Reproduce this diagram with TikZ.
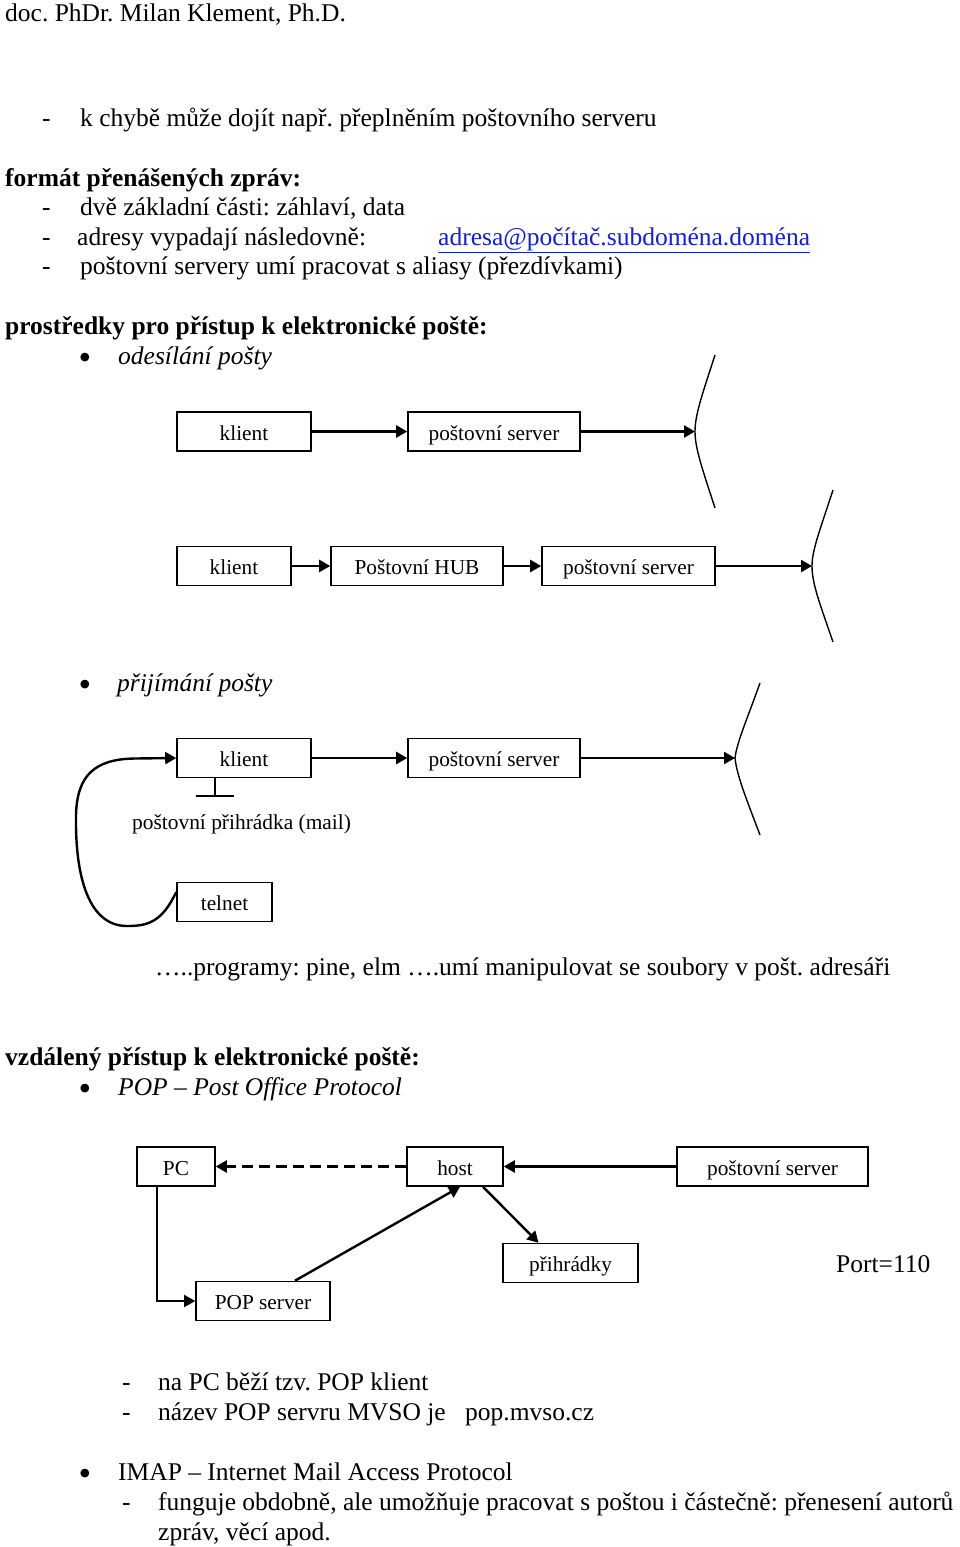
\documentclass[tikz,border=0pt]{standalone}
\usepackage{fontspec}
\setmainfont{Liberation Serif}
\usetikzlibrary{arrows.meta}
\definecolor{linkblue}{RGB}{20,30,210}
\frenchspacing
\begin{document}
\begin{tikzpicture}[x=1pt,y=-1pt,
  txt/.style={anchor=base west,inner sep=0pt,font=\fontsize{25.5}{30}\selectfont},
  btxt/.style={txt,font=\fontsize{25.5}{30}\selectfont\bfseries},
  itxt/.style={txt,font=\fontsize{25.5}{30}\selectfont\itshape},
  stxt/.style={anchor=base west,inner sep=0pt,font=\fontsize{21.4}{25}\selectfont},
  bul/.style={anchor=center,inner sep=0pt,font=\fontsize{36}{40}\selectfont},
  bx/.style={draw,line width=1.6pt,inner sep=0pt,minimum height=39pt,text height=21pt,text depth=4pt,font=\fontsize{21.3}{25}\selectfont},
  arr/.style={line width=2.4pt,-{Triangle[length=11pt,width=12pt]}},
  thin/.style={line width=1.5pt},
  curve/.style={line width=1.4pt}]
\useasboundingbox (0,0) rectangle (960,1547);
\fill[white] (0,0) rectangle (960,1547);

% ---- text at top
\node[txt] (h1) at (5,21) {doc. PhDr. Milan Klement, Ph.D.};
\node[txt] (d1) at (42,126) {-};
\node[txt] (t1) at (80,126) {k chybě může dojít např. přeplněním poštovního serveru};
\node[btxt] (s1) at (5,186) {formát přenášených zpráv:};
\node[txt] (d2) at (42,215) {-};
\node[txt] (t2) at (80,215) {dvě základní části: záhlaví, data};
\node[txt] (d3) at (42,245) {-};
\node[txt] (t3) at (77,245) {adresy vypadají následovně:};
\node[txt,text=linkblue] (lnk) at (438,245) {\underline{adresa@počítač.subdoména.doména}};
\node[txt] (d4) at (42,274) {-};
\node[txt] (t4) at (80,274) {poštovní servery umí pracovat s aliasy (přezdívkami)};
\node[btxt] (s2) at (5,334) {prostředky pro přístup k elektronické poště:};
\node[bul] (b1) at (85,361) {•};
\node[itxt] (i1) at (118,364) {odesílání pošty};

% ---- diagram 1
\node[bx,minimum width=134pt] (k1) at (244,431.5) {klient};
\node[bx,minimum width=172pt] (p1) at (494,431.5) {poštovní server};
\coordinate (v1) at (695,431.5);
\draw[curve] (715,355) .. controls (702,395) and (695,415) .. (v1) .. controls (695,448) and (702,468) .. (715,508);
\draw[arr] (k1) -- (p1);
\draw[arr] (p1) -- (v1);

% ---- diagram 2
\node[bx,minimum width=114pt] (k2) at (234,566) {klient};
\node[bx,minimum width=172pt] (h2) at (417,566) {Poštovní HUB};
\node[bx,minimum width=173pt] (p2) at (628.5,566) {poštovní server};
\coordinate (v2) at (812,566);
\draw[curve] (833,490) .. controls (820,530) and (812,550) .. (v2) .. controls (812,584) and (820,604) .. (833,642);
\draw[arr] (k2) -- (h2);
\draw[arr] (h2) -- (p2);
\draw[arr] (p2) -- (v2);

% ---- přijímání
\node[bul] (b2) at (85,688) {•};
\node[itxt] (i2) at (117,691) {přijímání pošty};
\node[bx,minimum width=134pt] (k3) at (244,758) {klient};
\node[bx,minimum width=172pt] (p3) at (494,758) {poštovní server};
\coordinate (v3) at (735,758);
\draw[curve] (760,683) .. controls (746,722) and (737,742) .. (v3) .. controls (737,776) and (746,798) .. (760,835);
\draw[arr] (k3) -- (p3);
\draw[arr] (p3) -- (v3);
\coordinate (tb) at (215,796);
\draw[thin] (k3.south west -| tb) -- (tb);
\draw[thin] ([xshift=-19pt]tb) -- ([xshift=19pt]tb);
\node[stxt] (mail) at (132,829) {poštovní přihrádka (mail)};
\node[bx,minimum width=95pt] (tel) at (224.5,902) {telnet};
\draw[arr] ([yshift=10pt]tel.west) .. controls (162,922) and (148,926) .. (127,926) .. controls (90,926) and (75,880) .. (76,815) .. controls (77,775) and (95,759) .. (135,758.5) -- (k3.west);

\node[txt] (prog) at (155,975) {…..programy: pine, elm ….umí manipulovat se soubory v pošt. adresáři};

% ---- vzdálený přístup
\node[btxt] (s3) at (5,1065) {vzdálený přístup k elektronické poště:};
\node[bul] (b3) at (85,1092) {•};
\node[itxt] (i3) at (118,1095) {POP – Post Office Protocol};

\node[bx,minimum width=78pt] (pc) at (176,1166.5) {PC};
\node[bx,minimum width=96pt] (host) at (455,1166.5) {host};
\node[bx,minimum width=191pt] (ps) at (772.5,1166.5) {poštovní server};
\node[bx,minimum width=134pt] (pop) at (263,1301) {POP server};
\node[bx,minimum width=135pt] (pri) at (570.5,1263) {přihrádky};
\draw[line width=2.4pt,dash pattern=on 11pt off 6pt,-{Triangle[length=11pt,width=12pt]}] (host) -- (pc);
\draw[arr] (ps) -- (host);
\draw[thin,-{Triangle[length=11pt,width=12pt]}] ([xshift=-19pt]pc.south) |- (pop.west);
\draw[arr] ([xshift=32pt]pop.north) -- ([xshift=5pt]host.south);
\draw[arr] ([xshift=28pt]host.south) -- ([xshift=-32pt]pri.north);
\node[txt] (port) at (836,1272) {Port=110};

% ---- bottom text
\node[txt] (d5) at (122,1390) {-};
\node[txt] (t5) at (158,1390) {na PC běží tzv. POP klient};
\node[txt] (d6) at (122,1420) {-};
\node[txt] (t6) at (158,1420) {název POP servru MVSO je};
\node[txt] (t6b) at (465,1420) {pop.mvso.cz};
\node[bul] (b4) at (85,1477) {•};
\node[txt] (t7) at (118,1480) {IMAP – Internet Mail Access Protocol};
\node[txt] (d8) at (122,1510) {-};
\node[txt] (t8) at (158,1510) {funguje obdobně, ale umožňuje pracovat s poštou i částečně: přenesení autorů};
\node[txt] (t9) at (158,1540) {zpráv, věcí apod.};
\end{tikzpicture}
\end{document}
